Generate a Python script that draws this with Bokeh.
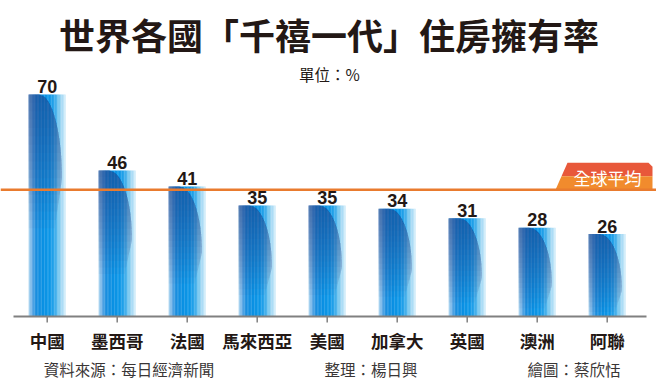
import math
from bokeh.plotting import figure
from bokeh.models import Range1d, ColumnDataSource, Span
from bokeh.core.properties import value
from bokeh.embed import file_html
from bokeh.resources import INLINE

# ---------------- data ----------------
categories = ["中國", "墨西哥", "法國", "馬來西亞", "美國", "加拿大", "英國", "澳洲", "阿聯"]
rates = [70, 46, 41, 35, 35, 34, 31, 28, 26]
global_avg = 40
title_text = "世界各國「千禧一代」住房擁有率"
unit_text = "單位：%"
avg_label = "全球平均"
footer_texts = ["資料來源：每日經濟新聞", "整理：楊日興", "繪圖：蔡欣恬"]

# ---------------- geometry ----------------
W, H = 656, 386
OFF = 0
PX_X = 70.0          # pixels per category step
PX_Y = 222.0 / 70.0  # pixels per percent
x_start = -(46.7 - OFF) / PX_X
x_end = x_start + W / PX_X
y_end = (316 - OFF) / PX_Y
y_start = y_end - H / PX_Y


def X(px):
    return x_start + (px - OFF) / PX_X


def Y(py):
    return y_end - (py - OFF) / PX_Y


CJK = value("Noto Sans CJK TC")
LAT = value("Liberation Sans")

p = figure(width=W, height=H, x_range=Range1d(x_start, x_end),
           y_range=Range1d(y_start, y_end), output_backend="svg",
           toolbar_location=None, x_axis_location=None, y_axis_location=None,
           min_border=0)
p.grid.visible = False
p.outline_line_color = None
p.background_fill_color = "white"
p.border_fill_color = "white"


# ---------------- colour helpers ----------------
def hex2rgb(h):
    h = h.lstrip("#")
    return tuple(int(h[k:k + 2], 16) for k in (0, 2, 4))


def rgb2hex(c):
    return "#%02x%02x%02x" % tuple(max(0, min(255, int(round(v)))) for v in c)


def interp(stops, u):
    for (u0, c0), (u1, c1) in zip(stops[:-1], stops[1:]):
        if u <= u1:
            t = 0 if u1 == u0 else (u - u0) / (u1 - u0)
            a, b = hex2rgb(c0), hex2rgb(c1)
            return tuple(a[k] + (b[k] - a[k]) * t for k in range(3))
    return hex2rgb(stops[-1][1])


cyl_stops = [(0, "#b4daf2"), (0.08, "#6db0e7"), (0.2, "#1b8edf"), (0.35, "#0a8fe3"),
             (0.58, "#0b97e7"), (0.72, "#3caceb"), (0.86, "#97d4f2"), (1, "#d8effa")]

BW = 0.53
NC = 26
US, UE, UL = 0.28, 0.90, 0.70
K = 16
A_LAYER = 1 - 0.40 ** (1 / K)

# cylinder columns
cols = dict(left=[], right=[], top=[], color=[])
for i, v in enumerate(rates):
    for j in range(NC):
        ul, ur = j / NC, (j + 1) / NC
        cols["left"].append(i - BW / 2 + ul * BW)
        cols["right"].append(i - BW / 2 + ur * BW + (0.003 if j < NC - 1 else 0))
        cols["top"].append(v)
        cols["color"].append(rgb2hex(interp(cyl_stops, (ul + ur) / 2)))
p.quad(left="left", right="right", top="top", bottom=0, fill_color="color",
       line_color=None, source=ColumnDataSource(cols))

# dark curved shading, built from nested translucent layers
xs_l, ys_l = [], []
for i, v in enumerate(rates):
    hpx = v * PX_Y
    d = min(40 + 0.2 * hpx, hpx)
    fade = min(45 + 0.4 * hpx, hpx)
    xl = i - BW / 2

    def u_at(vp):
        if vp < d:
            return US + (UE - US) * math.sqrt(max(0.0, 1 - (1 - vp / d) ** 2))
        if fade <= d:
            return UE
        return UE - (UE - UL) * (vp - d) / (fade - d)

    for k in range(1, K + 1):
        vk = fade * k / K
        pts = [(0.0, 0.0), (US, 0.0)]
        n = 30
        for m in range(1, n + 1):
            vp = vk * m / n
            pts.append((u_at(vp), vp))
        pts.append((0.0, vk))
        xs_l.append([xl + u * BW for u, _ in pts])
        ys_l.append([v - vp / PX_Y for _, vp in pts])
p.patches(xs=xs_l, ys=ys_l, fill_color="#2c4c98", fill_alpha=A_LAYER, line_color=None)

idx = list(range(len(categories)))

# ---------------- global average ----------------
p.add_layout(Span(location=global_avg, dimension="width", line_color="#e97b2e",
                  line_width=2.5))
box_h = 27 / PX_Y
band = 13.5 / PX_Y
slant_x = lambda frac: X(567 - 12 * frac)
p.patch(x=[slant_x(band / box_h), X(567), X(648), X(652), X(652)],
        y=[global_avg + box_h - band, global_avg + box_h, global_avg + box_h,
           global_avg + box_h - 4 / PX_Y, global_avg + box_h - band],
        fill_color="#e8583a", line_color=None)
p.patch(x=[X(555), slant_x(band / box_h), X(652), X(652)],
        y=[global_avg, global_avg + box_h - band, global_avg + box_h - band, global_avg],
        fill_color="#f18b2d", line_color=None)
p.text(x=[X(607)], y=[global_avg + 12.5 / PX_Y], text=[avg_label], text_font=CJK,
       text_font_size="17px", text_color="white", text_align="center",
       text_baseline="middle")

# ---------------- axis ----------------
p.segment(x0=[X(13)], y0=[0], x1=[X(646)], y1=[0], line_color="#808080", line_width=2)
p.segment(x0=idx, y0=[0] * len(idx), x1=idx, y1=[-6 / PX_Y] * len(idx),
          line_color="#808080", line_width=1.5)
p.text(x=idx, y=[Y(340)] * len(idx), text=categories, text_font=CJK,
       text_font_style="bold", text_font_size="17.5px", text_color="#231815",
       text_align="center", text_baseline="middle")

# ---------------- value labels ----------------
p.text(x=idx, y=[r + 8 / PX_Y for r in rates], text=[str(r) for r in rates],
       text_font=LAT, text_font_style="bold", text_font_size="18px",
       text_color="#231815", text_align="center", text_baseline="alphabetic")

# ---------------- titles ----------------
p.text(x=[X(328.5)], y=[Y(33)], text=[title_text], text_font=CJK,
       text_font_style="bold", text_font_size="36px", text_color="#231815",
       text_align="center", text_baseline="middle")
p.text(x=[X(329)], y=[Y(73)], text=[unit_text], text_font=CJK,
       text_font_size="15.5px", text_color="#231815", text_align="center",
       text_baseline="middle")

# ---------------- footer ----------------
p.text(x=[X(128.5), X(370.5), X(573.5)], y=[Y(368.5)] * 3, text=footer_texts,
       text_font=CJK, text_font_size="15.5px", text_color="#3a3636",
       text_align="center", text_baseline="middle")

open("out.html", "w").write(file_html(p, INLINE))
